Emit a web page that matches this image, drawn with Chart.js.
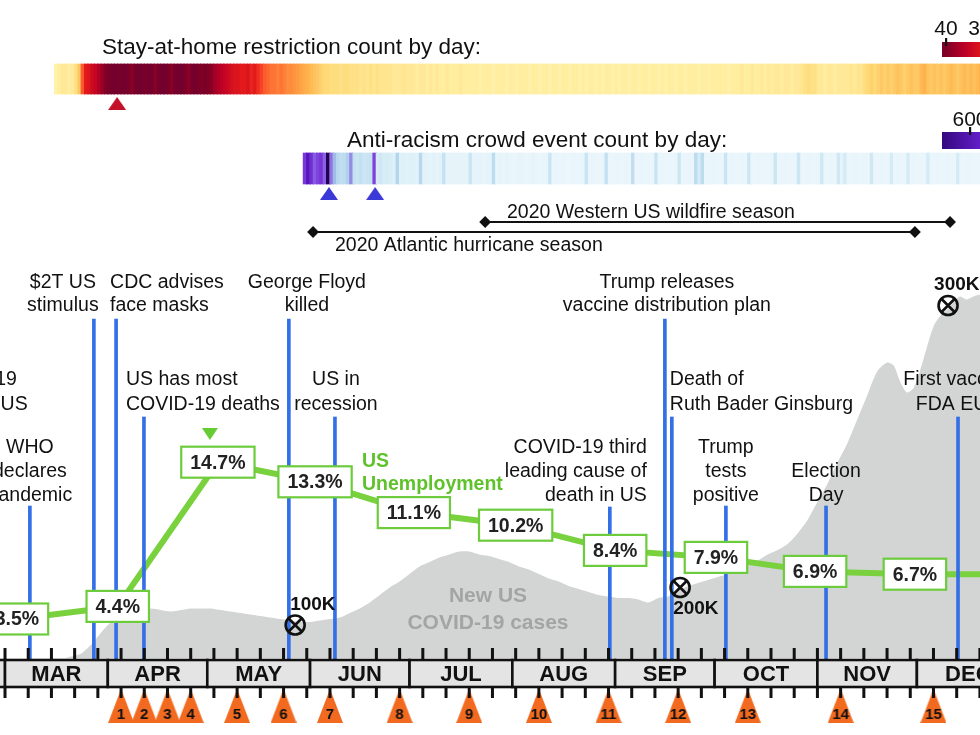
<!DOCTYPE html>
<html><head><meta charset="utf-8">
<script src="https://cdn.jsdelivr.net/npm/chart.js@4.4.1/dist/chart.umd.min.js"></script>
<style>html,body{margin:0;padding:0;background:#fff;overflow:hidden}canvas{display:block}</style>
</head><body>
<canvas id="c" width="980" height="735"></canvas>
<script>
// ================= DATA (days counted from Jan 1 2020 = day 0) =================
const monthLabels = ['FEB','MAR','APR','MAY','JUN','JUL','AUG','SEP','OCT','NOV','DEC'];
const monthStartDays = [31,60,91,121,152,182,213,244,274,305,335,366];

const unemploymentDays = [63.6,94,124.2,153.5,183.3,214,244,274.4,304.3,334.4,364.4];
const unemploymentRate = [3.5,4.4,14.7,13.3,11.1,10.2,8.4,7.9,6.9,6.7,6.7];

const caseDays = [78,80,83,86,89,92,95,98,101,104,107,110,113,116,119,122,125,128,131,134,137,140,143,146,149,152,155,158,161,164,167,170,173,176,179,182,185,188,191,194,197,200,203,206,209,212,215,218,221,224,227,230,233,236,239,242,245,248,251,254,257,260,263,266,269,272,275,278,281,284,287,290,293,296,299,302,305,308,311,314,317,320,323,326,328,330,332,334,336,338,340,342,344,346,348,350,352,355];
const newCasesK = [0,1,3,9,17,24,28,31,32,33,32,31,32,33,33,33,32,31,30,29,28,27,26,25,24,24,25,26,27,30,33,37,42,47,51,56,61,64,67,69,71,71,69,68,66,64,61,59,56,53,51,48,46,44,42,41,40,40,39,37,40,41,45,48,50,52,54,56,59,62,65,69,72,76,83,92,104,116,130,143,159,175,191,197,195,184,177,180,192,207,221,228,232,237,241,239,241,243];

const deathMilestoneDays = [147.5, 263.6, 344.4];
const deathMilestoneCasesK = [22, 47, 235];
const deathMilestoneLabels = ['100K','200K','300K'];

const eventLabels = [
  ['COVID-19','deaths in US'],
  ['WHO','declares','pandemic'],
  ['$2T US','stimulus'],
  ['CDC advises','face masks'],
  ['US has most','COVID-19 deaths'],
  ['George Floyd','killed'],
  ['US in','recession'],
  ['COVID-19 third','leading cause of','death in US'],
  ['Trump releases','vaccine distribution plan'],
  ['Death of','Ruth Bader Ginsburg'],
  ['Trump','tests','positive'],
  ['Election','Day'],
  ['First vaccine','FDA EUA']
];
const eventDays = [50, 67.5, 86.8, 93.5, 101.9, 145.6, 159.5, 242.4, 259, 261.1, 277.4, 307.6, 347.4];

const stayHomeStartDay = 75;
const stayHomeCounts = [
 4,5,6,6,5,6,8,12,
 24,
 30,31,33,34,36,
 38,40,41,42,42,41,42,42,41,39,42,42,42,41,42,42,39,42,42,42,41,39,42,42,42,41,39,41,42,41,40,41,40,39,
 37,36,35,34,
 33,32,31,31,30,30,31,29,30,28,
 26,24,23,22,22,21,22,21,20,20,19,18,17,
 16,15,14,13,12,11,
 10,10,9,9,9,8,9,9,8,8,8,7,8,7,8,7,8,7,7,7,
 7,6,6,6,7,6,6,6,5,6,6,5,6,5,6,5,5,6,5,5,5,6,5,5,5,
 5,5,4,5,5,5,4,5,5,5,4,5,5,4,5,5,5,4,5,5,4,5,5,4,5,
 5,4,5,5,4,5,5,4,5,4,5,5,4,5,4,5,5,4,5,4,5,5,4,5,5,
 4,5,5,4,5,5,4,5,4,5,5,4,5,5,4,5,5,5,4,5,5,4,5,5,5,
 5,5,4,5,5,5,6,5,5,6,5,5,6,5,6,5,6,6,5,6,6,5,6,6,7,
 8,9,8,8,
 6,6,5,6,6,5,6,6,6,6,7,6,7,7,
 9,10,11,10,11,12,11,12,11,12,13,12,11,12,13,12,12,14,15,13,12,13,12,13,12,13,14,13,12,13,14,13,14,13,14,15,14
];

const antiRacismStartDay = 150;
const antiRacismCounts = [
 420,560,450,320,380,430,300,720,260,130,85,70,75,95,210,60,55,65,50,55,60,380,
 40,45,35,40,35,30, 90,
 30,30,25,30,28,25, 85,
 25,25,22,25,22,24, 60,
 22,20,22,20,22,20,20, 55,
 20,22,20,18,20,22, 75,
 18,20,18,20,18,16,18,20,18,16,18,20,18,16,18,18, 55,
 16,18,16,18,16,16,18,16,16,18, 55,
 16,18,16,16,18, 65,
 16,16,18,16,16,18,16, 70,
 16,16,18,16,16,16, 55,
 16,18,16,16,16,18, 50,
 16,16,18,16, 75,40,75,
 16,16,18,16,16,16, 55,
 16,18,16,16,18,16, 50,
 16,16,18,16,16,16,18, 50,
 16,16,18,16,16,16, 50,
 16,16,18,16,16,18, 45,
 16,16,18,16, 45, 20,40,
 16,16,18,16,16,18,16, 45,
 16,16,18,16,16, 40,
 16,18,16,16, 40,
 16,18,16,16,16, 40,
 16,16,18,16,16,18,16,16, 40,
 16,16,18,16,16,16,18,16
];

const numberedDays = [95,102,109,116,130,144,158,179,200,221,242,263,284,312,340];
const numberedLabels = ['1','2','3','4','5','6','7','8','9','10','11','12','13','14','15'];
const stayHomePeakDay = [93.8];
const protestPeakDays = [157.7, 171.6];
const unemploymentPeakDay = [121.8];

const seasonNames = ['2020 Western US wildfire season','2020 Atlantic hurricane season'];
const seasonStartDays = [204.8, 152.9];
const seasonEndDays = [345.0, 334.4];

// ================= STYLE / LAYOUT =================
const FONT = '"Liberation Sans", Arial, Helvetica, sans-serif';
const BLUE = '#336fe6';
const GREEN_LINE = '#79d13e';
const GREEN_TXT = '#5fc22c';
const GRAY_AREA = '#d3d5d4';

const tierBaselines = {A:[288,311], B:[385,410], C:[453,477,501], C2:[477,501]};
const eventTier   = ['B','C','A','A','B','A','B','C','A','B','C','C2','B'];
const eventTopY   = [417,506,319,319,417,319,417,507,319,417,506,506,417];
const eventAlign  = ['center','center','center','left','left','center','center','right','center','left','center','center','center'];
const eventDx     = [0,0,-31,-6,-18,18,1,37,2,-2,0,0,0];

function hexRgb(h){h=h.replace('#','');return [parseInt(h.substr(0,2),16),parseInt(h.substr(2,2),16),parseInt(h.substr(4,2),16)];}
function cmap(stops,v){
  if(v<=stops[0][0]) return stops[0][1];
  for(let i=1;i<stops.length;i++){
    if(v<=stops[i][0]){
      const t=(v-stops[i-1][0])/(stops[i][0]-stops[i-1][0]);
      const a=hexRgb(stops[i-1][1]), b=hexRgb(stops[i][1]);
      return 'rgb('+a.map((c,k)=>Math.round(c+(b[k]-c)*t)).join(',')+')';
    }
  }
  return stops[stops.length-1][1];
}
const stayStops=[[0,'#ffffcc'],[5,'#ffeda0'],[10,'#fed976'],[15,'#feb24c'],[20,'#fd8d3c'],[25,'#fc4e2a'],[30,'#e31a1c'],[35,'#bd0026'],[40,'#800026'],[43,'#6c0030']];
const antiStops=[[0,'#f4fbfe'],[16,'#eaf6fb'],[25,'#e2f2f9'],[45,'#d0e8f4'],[80,'#b9daee'],[150,'#96ade6'],[250,'#9274e2'],[400,'#7c3cdc'],[550,'#5a16c2'],[650,'#380886'],[760,'#180038']];

function triCanvas(w,h,color,dir,label){
  const c=document.createElement('canvas'); c.width=w; c.height=h;
  const g=c.getContext('2d'); g.beginPath();
  if(dir==='up'){g.moveTo(w/2,0);g.lineTo(w,h);g.lineTo(0,h);} else {g.moveTo(0,0);g.lineTo(w,0);g.lineTo(w/2,h);}
  g.closePath(); g.fillStyle=color; g.fill();
  if(label){g.fillStyle='#111';g.font='bold 15px '+FONT;g.textAlign='center';g.textBaseline='alphabetic';g.fillText(label,w/2,h-4);}
  return c;
}

// ================= DATASETS =================
const stayData = stayHomeCounts.map((v,i)=>({x:stayHomeStartDay+i+0.5,y:[64,94]}));
const antiData = antiRacismCounts.map((v,i)=>({x:antiRacismStartDay+i+0.5,y:[153,184]}));

const datasets = [
  {type:'line', label:'cases', data:caseDays.map((d,i)=>({x:d,y:newCasesK[i]})), yAxisID:'yC',
   fill:'origin', backgroundColor:GRAY_AREA, borderWidth:0, pointRadius:0, tension:0.25, order:20},
  {type:'bar', label:'stay', data:stayData, yAxisID:'yP', backgroundColor:stayHomeCounts.map(v=>cmap(stayStops,v)),
   barThickness:4, grouped:false, borderWidth:0, order:19},
  {type:'bar', label:'anti', data:antiData, yAxisID:'yP', backgroundColor:antiRacismCounts.map(v=>cmap(antiStops,v)),
   barThickness:4, grouped:false, borderWidth:0, order:18},
  {type:'line', label:'season0', data:[{x:seasonStartDays[0],y:222},{x:seasonEndDays[0],y:222}], yAxisID:'yP',
   borderColor:'#111', borderWidth:2, pointStyle:'rectRot', pointRadius:4.5, pointBackgroundColor:'#111', pointBorderColor:'#111', order:17},
  {type:'line', label:'season1', data:[{x:seasonStartDays[1],y:232},{x:seasonEndDays[1],y:232}], yAxisID:'yP',
   borderColor:'#111', borderWidth:2, pointStyle:'rectRot', pointRadius:4.5, pointBackgroundColor:'#111', pointBorderColor:'#111', order:16},
  {type:'line', label:'unemp', data:unemploymentDays.map((d,i)=>({x:d,y:unemploymentRate[i]})), yAxisID:'yU',
   borderColor:GREEN_LINE, borderWidth:6, pointRadius:0, tension:0, order:15},
  {type:'bar', label:'events', data:eventDays.map((d,i)=>({x:d,y:[eventTopY[i],660]})), yAxisID:'yP',
   backgroundColor:BLUE, barThickness:3, grouped:false, borderWidth:0, order:14},
  {type:'line', label:'milestoneCircle', data:deathMilestoneDays.map((d,i)=>({x:d,y:deathMilestoneCasesK[i]})), yAxisID:'yC',
   showLine:false, pointStyle:'circle', pointRadius:9.5, pointBorderWidth:2.6, pointBorderColor:'#111', pointBackgroundColor:'rgba(0,0,0,0)', order:13},
  {type:'line', label:'milestoneX', data:deathMilestoneDays.map((d,i)=>({x:d,y:deathMilestoneCasesK[i]})), yAxisID:'yC',
   showLine:false, pointStyle:'crossRot', pointRadius:9.5, pointBorderWidth:2.6, pointBorderColor:'#111', order:12},
  {type:'line', label:'numbered', data:numberedDays.map(d=>({x:d,y:706})), yAxisID:'yP', showLine:false,
   pointStyle:numberedLabels.map(l=>triCanvas(26,34,'#f26a1f','up',l)), pointRadius:5, order:11},
  {type:'line', label:'redTri', data:stayHomePeakDay.map(d=>({x:d,y:103.5})), yAxisID:'yP', showLine:false,
   pointStyle:triCanvas(18,13,'#c3112a','up'), pointRadius:5, order:10},
  {type:'line', label:'blueTri', data:protestPeakDays.map(d=>({x:d,y:193.5})), yAxisID:'yP', showLine:false,
   pointStyle:triCanvas(18,13,'#3a38d6','up'), pointRadius:5, order:10},
  {type:'line', label:'greenTri', data:unemploymentPeakDay.map(d=>({x:d,y:434})), yAxisID:'yP', showLine:false,
   pointStyle:triCanvas(16,12,'#66cc33','down'), pointRadius:5, order:10}
];

// ================= OVERLAY PLUGIN =================
const overlay = {
  id:'overlay',
  afterDatasetsDraw(chart){
    const ctx=chart.ctx, xs=chart.scales.x;
    const px=d=>xs.getPixelForValue(d);
    ctx.save();
    // ---- month axis ----
    ctx.fillStyle='#111';
    for(let d=60-28; d<=372; d+=7){
      const x=px(d);
      ctx.fillRect(x-1.5,648,3,12);
      ctx.fillRect(x-1.5,687,3,11);
    }
    for(let i=0;i<monthLabels.length;i++){
      const x0=px(monthStartDays[i]), x1=px(monthStartDays[i+1]);
      ctx.fillStyle='#e4e4e4'; ctx.fillRect(x0,660,x1-x0,27);
      ctx.strokeStyle='#111'; ctx.lineWidth=2.6; ctx.strokeRect(x0,660,x1-x0,27);
      ctx.fillStyle='#111'; ctx.font='bold 22px '+FONT; ctx.textAlign='center'; ctx.textBaseline='alphabetic';
      ctx.fillText(monthLabels[i],(x0+x1)/2,681);
    }
    // ---- unemployment boxes ----
    const meta=chart.getDatasetMeta(5);
    ctx.font='bold 19.5px '+FONT; ctx.textAlign='center'; ctx.textBaseline='middle';
    meta.data.forEach((pt,i)=>{
      const txt=unemploymentRate[i].toFixed(1)+'%';
      const w=ctx.measureText(txt).width+18, h=31;
      ctx.fillStyle='#fff'; ctx.fillRect(pt.x-w/2,pt.y-h/2,w,h);
      ctx.strokeStyle='#6dcc3d'; ctx.lineWidth=2.2; ctx.strokeRect(pt.x-w/2,pt.y-h/2,w,h);
      ctx.fillStyle='#222'; ctx.fillText(txt,pt.x,pt.y+1);
    });
    ctx.textBaseline='alphabetic';
    ctx.fillStyle=GREEN_TXT; ctx.textAlign='left';
    ctx.fillText('US',362,467); ctx.fillText('Unemployment',362,490);
    // ---- cases label ----
    ctx.fillStyle='#a3a5a4'; ctx.font='bold 21px '+FONT; ctx.textAlign='center';
    ctx.fillText('New US',488,602); ctx.fillText('COVID-19 cases',488,629);
    // ---- milestone labels ----
    const mm=chart.getDatasetMeta(7);
    const mdx=[-5,-7,-14], mdy=[-15,26,-16];
    ctx.fillStyle='#111'; ctx.font='bold 19px '+FONT; ctx.textAlign='left';
    mm.data.forEach((pt,i)=>ctx.fillText(deathMilestoneLabels[i],pt.x+mdx[i],pt.y+mdy[i]));
    // ---- event labels ----
    ctx.font='19.5px '+FONT; ctx.fillStyle='#111';
    eventLabels.forEach((lines,i)=>{
      ctx.textAlign=eventAlign[i];
      const x=px(eventDays[i])+eventDx[i];
      const bl=tierBaselines[eventTier[i]];
      lines.forEach((t,k)=>ctx.fillText(t,x,bl[k]));
    });
    // ---- season labels ----
    ctx.textAlign='left';
    ctx.fillText(seasonNames[0],507,218);
    ctx.fillText(seasonNames[1],335,251);
    // ---- headings ----
    ctx.font='22.5px '+FONT;
    ctx.fillText('Stay-at-home restriction count by day:',102,54);
    ctx.fillText('Anti-racism crowd event count by day:',347,147);
    // ---- colour legends ----
    let g=ctx.createLinearGradient(942,0,990,0);
    for(let k=0;k<=10;k++){g.addColorStop(k/10,cmap(stayStops,41.2-k*1.3));}
    ctx.fillStyle=g; ctx.fillRect(942,42,40,15);
    ctx.fillStyle='#111'; ctx.fillRect(945,38,2.2,8);
    ctx.font='21px '+FONT; ctx.textAlign='center';
    ctx.fillText('40',946,35); ctx.fillText('30',980,35);
    g=ctx.createLinearGradient(942,0,980,0);
    g.addColorStop(0,cmap(antiStops,660)); g.addColorStop(1,cmap(antiStops,520));
    ctx.fillStyle=g; ctx.fillRect(942,132,40,17);
    ctx.fillStyle='#111'; ctx.fillRect(969,127,2.2,8);
    ctx.fillText('600',970,126);
    ctx.restore();
  }
};

new Chart(document.getElementById('c'),{
  type:'line',
  data:{datasets},
  options:{
    responsive:false, animation:false, devicePixelRatio:1, events:[],
    layout:{padding:0, autoPadding:false},
    plugins:{legend:{display:false},tooltip:{enabled:false}},
    scales:{
      x:{type:'linear',min:58.49,max:354.03,display:false,offset:false},
      yP:{type:'linear',min:0,max:735,reverse:true,display:false},
      yU:{type:'linear',min:-4.786,max:47.714,display:false},
      yC:{type:'linear',min:-51.33,max:438.67,display:false}
    }
  },
  plugins:[overlay]
});
</script>
</body></html>
